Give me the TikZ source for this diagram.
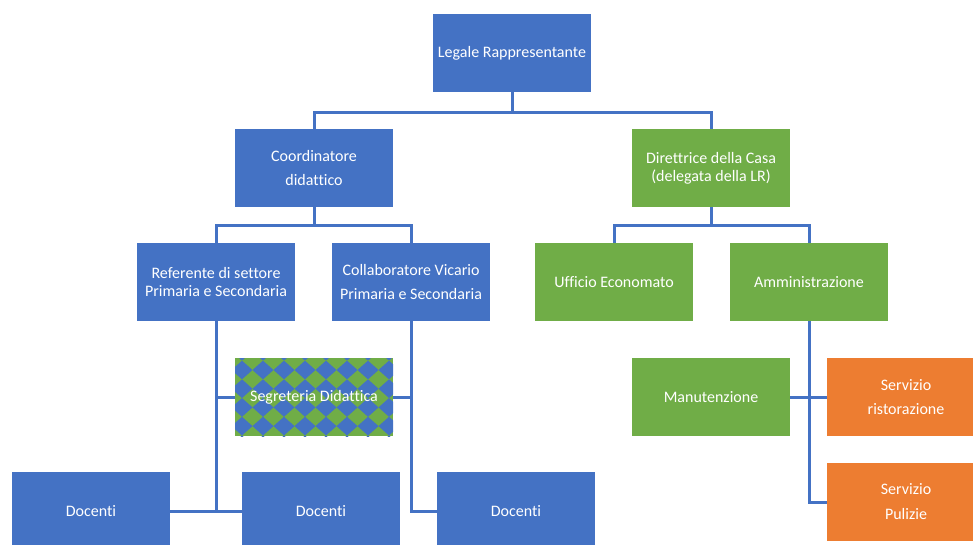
\documentclass[tikz,border=0pt]{standalone}
\usepackage{fontspec}
\setmainfont{Carlito}[Ligatures=NoCommon]
\usetikzlibrary{positioning}
\definecolor{blueC}{HTML}{4472C4}
\definecolor{greenC}{HTML}{70AD47}
\definecolor{orangeC}{HTML}{ED7D31}

\begin{document}
\begin{tikzpicture}[x=1pt,y=-1pt,
    unit/.style={rectangle,minimum width=158pt,minimum height=78pt,inner sep=0pt,
      text=white,align=center,font=\fontsize{16}{18}\selectfont},
    blueunit/.style={unit,fill=blueC},
    greenunit/.style={unit,fill=greenC},
    orangeunit/.style={unit,fill=orangeC},
    checkunit/.style={unit,path picture={
        \fill[greenC] (path picture bounding box.south west) rectangle (path picture bounding box.north east);
        \foreach \i in {-1,...,8}
          \foreach \j in {-1,...,4}
            \fill[blueC] ([shift={(7+21*\i,12+18.7*\j)}]path picture bounding box.north west)
              +(-10.5,0) -- +(0,-9.35) -- +(10.5,0) -- +(0,9.35) -- cycle;}},
    link/.style={draw=blueC,line width=3pt}]
    \useasboundingbox (0,0) rectangle (973,544);

    \node[blueunit] (legale) at (512,53) {Legale Rappresentante};
    \node[blueunit] (coord) at (314,168) {Coordinatore\\[6pt]didattico};
    \node[greenunit] (dir) at (711,168) {Direttrice della Casa\\(delegata della LR)};
    \node[blueunit] (ref) at (216,282) {Referente di settore\\Primaria e Secondaria};
    \node[blueunit] (collab) at (411,282) {Collaboratore Vicario\\[6pt]Primaria e Secondaria};
    \node[greenunit] (econ) at (614,282) {Ufficio Economato};
    \node[greenunit] (amm) at (809,282) {Amministrazione};
    \node[checkunit] (segr) at (314,397) {Segreteria Didattica};
    \node[greenunit] (man) at (711,397) {Manutenzione};
    \node[orangeunit] (rist) at (906,397) {Servizio\\[6pt]ristorazione};
    \node[orangeunit] (pul) at (906,502) {Servizio\\[7pt]Pulizie};
    \node[blueunit] (doc1) at (91,511) {Docenti};
    \node[blueunit] (doc2) at (321,511) {Docenti};
    \node[blueunit] (doc3) at (516,511) {Docenti};

    \draw[link] (legale.south) -- ++(0,20) -| (coord.north);
    \draw[link] (legale.south) -- ++(0,20) -| (dir.north);
    \draw[link] (coord.south) -- ++(0,18) -| (ref.north);
    \draw[link] (coord.south) -- ++(0,18) -| (collab.north);
    \draw[link] (dir.south) -- ++(0,18) -| (econ.north);
    \draw[link] (dir.south) -- ++(0,18) -| (amm.north);
    \draw[link] (ref.south) |- (doc2.west);
    \draw[link] (doc1.east) -- (doc1.east -| ref.south);
    \draw[link] (collab.south) |- (doc3.west);
    \draw[link] (segr.west) -- (segr.west -| ref.south);
    \draw[link] (segr.east) -- (segr.east -| collab.south);
    \draw[link] (amm.south) |- (pul.west);
    \draw[link] (man.east) -- (rist.west);
\end{tikzpicture}
\end{document}
